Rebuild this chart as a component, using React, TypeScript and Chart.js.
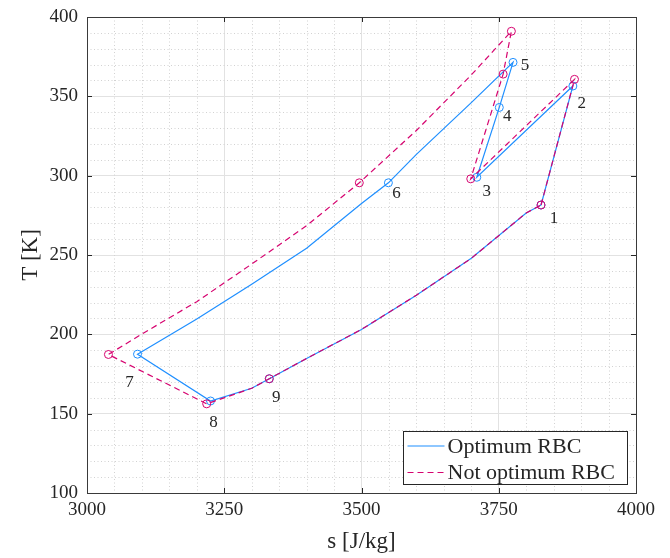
import React, { useEffect, useRef } from 'react';
import { Chart, registerables } from 'chart.js';

Chart.register(...registerables);

// ---- data ----
const optS = [3827, 3885, 3710, 3751, 3776, 3700, 3600, 3549, 3500, 3400, 3300, 3200, 3092, 3225, 3300, 3332, 3400, 3500, 3600, 3700, 3800, 3827];
const optT = [281.5, 356.5, 299, 343, 371.4, 346, 313.4, 295.5, 282.5, 254.2, 231.6, 209.6, 187.5, 158, 166, 172, 184.8, 203.1, 224.7, 247.9, 276.5, 281.5];
const notS = [3827, 3888, 3699, 3758, 3773, 3700, 3600, 3496, 3400, 3300, 3200, 3100, 3039, 3218, 3300, 3332, 3400, 3500, 3600, 3700, 3800, 3827];
const notT = [281.5, 360.7, 298, 364, 391, 363.5, 328.5, 295.5, 268.5, 244.3, 220.6, 200.2, 187.3, 156.2, 166, 172, 184.8, 203.1, 224.7, 247.9, 276.5, 281.5];
// indices of the numbered state points (1..9) inside each path
const stateIdx = [0, 1, 2, 3, 4, 7, 12, 13, 15];
const stateNames = ['1', '2', '3', '4', '5', '6', '7', '8', '9'];
const seriesNames = ['Optimum RBC', 'Not optimum RBC'];
const xMin = 3000, xMax = 4000, xStep = 250, xMinorStep = 50;
const yMin = 100, yMax = 400, yStep = 50, yMinorStep = 10;

// ---- styles ----
const BLUE = '#1f8fff';
const MAG = '#d6036f';
const INK = '#262626';
const SERIF = '"Liberation Serif", "DejaVu Serif", serif';
// label offsets in pixels from the Optimum state points
const labelOffsets: [number, number][] = [
  [13, 14], [9, 18], [10, 14], [8, 9], [12, 3], [8, 11], [-8, 28], [3, 22], [7, 19],
];

const toXY = (s: number[], t: number[]) => s.map((v, i) => ({ x: v, y: t[i] }));
const radii = (n: number) => Array.from({ length: n }, (_, i) => (stateIdx.includes(i) ? 4 : 0));

const decorPlugin = {
  id: 'decor',
  beforeDatasetsDraw(chart: any) {
    const { ctx, chartArea: a, scales } = chart;
    ctx.save();
    ctx.strokeStyle = '#d2d2d2';
    ctx.lineWidth = 1;
    ctx.setLineDash([1, 2.5]);
    for (let v = xMin + xMinorStep; v < xMax; v += xMinorStep) {
      if ((v - xMin) % xStep === 0) continue;
      const px = Math.round(scales.x.getPixelForValue(v)) + 0.5;
      ctx.beginPath(); ctx.moveTo(px, a.top); ctx.lineTo(px, a.bottom); ctx.stroke();
    }
    for (let v = yMin + yMinorStep; v < yMax; v += yMinorStep) {
      if ((v - yMin) % yStep === 0) continue;
      const py = Math.round(scales.y.getPixelForValue(v)) + 0.5;
      ctx.beginPath(); ctx.moveTo(a.left, py); ctx.lineTo(a.right, py); ctx.stroke();
    }
    ctx.restore();
  },
  afterDatasetsDraw(chart: any) {
    const { ctx, chartArea: a, scales } = chart;
    ctx.save();
    // state labels
    ctx.fillStyle = INK;
    ctx.font = `17px ${SERIF}`;
    ctx.textAlign = 'center';
    ctx.textBaseline = 'middle';
    stateIdx.forEach((idx, k) => {
      const px = scales.x.getPixelForValue(optS[idx]) + labelOffsets[k][0];
      const py = scales.y.getPixelForValue(optT[idx]) + labelOffsets[k][1];
      ctx.fillText(stateNames[k], px, py);
    });
    // inward ticks
    ctx.strokeStyle = INK;
    ctx.lineWidth = 1;
    ctx.setLineDash([]);
    const tl = 5;
    for (let v = xMin; v <= xMax; v += xStep) {
      const px = Math.round(scales.x.getPixelForValue(v)) + 0.5;
      ctx.beginPath(); ctx.moveTo(px, a.bottom); ctx.lineTo(px, a.bottom - tl); ctx.stroke();
      ctx.beginPath(); ctx.moveTo(px, a.top); ctx.lineTo(px, a.top + tl); ctx.stroke();
    }
    for (let v = yMin; v <= yMax; v += yStep) {
      const py = Math.round(scales.y.getPixelForValue(v)) + 0.5;
      ctx.beginPath(); ctx.moveTo(a.left, py); ctx.lineTo(a.left + tl, py); ctx.stroke();
      ctx.beginPath(); ctx.moveTo(a.right, py); ctx.lineTo(a.right - tl, py); ctx.stroke();
    }
    // box
    ctx.strokeStyle = '#3a3a3a';
    ctx.strokeRect(Math.round(a.left) + 0.5, Math.round(a.top) + 0.5, Math.round(a.right - a.left), Math.round(a.bottom - a.top));
    // legend
    const w = 224, h = 53;
    const lx = Math.round(a.right - 9 - w) + 0.5;
    const ly = Math.round(a.bottom - 9 - h) + 0.5;
    ctx.fillStyle = '#ffffff';
    ctx.fillRect(lx, ly, w, h);
    ctx.strokeStyle = INK;
    ctx.strokeRect(lx, ly, w, h);
    const rows = [ly + 14.5, ly + 41];
    ctx.lineWidth = 1.2;
    ctx.strokeStyle = BLUE;
    ctx.beginPath(); ctx.moveTo(lx + 4, rows[0]); ctx.lineTo(lx + 41, rows[0]); ctx.stroke();
    ctx.strokeStyle = MAG;
    ctx.setLineDash([6, 4]);
    ctx.beginPath(); ctx.moveTo(lx + 4, rows[1]); ctx.lineTo(lx + 41, rows[1]); ctx.stroke();
    ctx.setLineDash([]);
    ctx.fillStyle = INK;
    ctx.font = `22px ${SERIF}`;
    ctx.textAlign = 'left';
    ctx.textBaseline = 'middle';
    ctx.fillText(seriesNames[0], lx + 44, rows[0] + 1);
    ctx.fillText(seriesNames[1], lx + 44, rows[1] + 1);
    ctx.restore();
  },
};

export default function App() {
  const ref = useRef<HTMLCanvasElement>(null);
  useEffect(() => {
    if (!ref.current) return;
    const chart = new Chart(ref.current, {
      type: 'scatter',
      data: {
        datasets: [
          {
            label: seriesNames[1],
            data: toXY(notS, notT),
            showLine: true,
            borderColor: MAG,
            borderWidth: 1.2,
            borderDash: [6, 4],
            pointRadius: radii(notS.length),
            pointBorderColor: MAG,
            pointBackgroundColor: 'rgba(0,0,0,0)',
            pointBorderWidth: 1,
            tension: 0,
            order: 0,
          },
          {
            label: seriesNames[0],
            data: toXY(optS, optT),
            showLine: true,
            borderColor: BLUE,
            borderWidth: 1.2,
            pointRadius: radii(optS.length),
            pointBorderColor: BLUE,
            pointBackgroundColor: 'rgba(0,0,0,0)',
            pointBorderWidth: 1,
            tension: 0,
            order: 1,
          },
        ],
      },
      options: {
        responsive: false,
        animation: false,
        layout: { padding: { top: 9, right: 26, left: 0, bottom: 0 } },
        plugins: { legend: { display: false }, tooltip: { enabled: false } },
        scales: {
          x: {
            type: 'linear',
            min: xMin,
            max: xMax,
            ticks: { stepSize: xStep, color: INK, font: { family: SERIF, size: 19 }, padding: 6, maxRotation: 0, callback: (v: any) => String(v) },
            grid: { color: '#e2e2e2', drawTicks: false, lineWidth: 1 },
            border: { display: false },
            title: { display: true, text: 's [J/kg]', color: INK, font: { family: SERIF, size: 23 }, padding: { top: 0, bottom: 2 } },
            afterFit: (s: any) => { s.height = 65; s.paddingLeft = 0; s.paddingRight = 0; },
          },
          y: {
            type: 'linear',
            min: yMin,
            max: yMax,
            ticks: { stepSize: yStep, color: INK, font: { family: SERIF, size: 19 }, padding: 9, callback: (v: any) => String(v) },
            grid: { color: '#e2e2e2', drawTicks: false, lineWidth: 1 },
            border: { display: false },
            title: { display: true, text: 'T [K]', color: INK, font: { family: SERIF, size: 23 }, padding: { top: 9, bottom: 0 } },
            afterFit: (s: any) => { s.width = 79; s.paddingTop = 0; s.paddingBottom = 0; },
          },
        },
      },
      plugins: [decorPlugin],
    } as any);
    return () => chart.destroy();
  }, []);
  return (
    <div style={{ width: 654, height: 550 }}>
      <canvas ref={ref} width={654} height={550} />
    </div>
  );
}
